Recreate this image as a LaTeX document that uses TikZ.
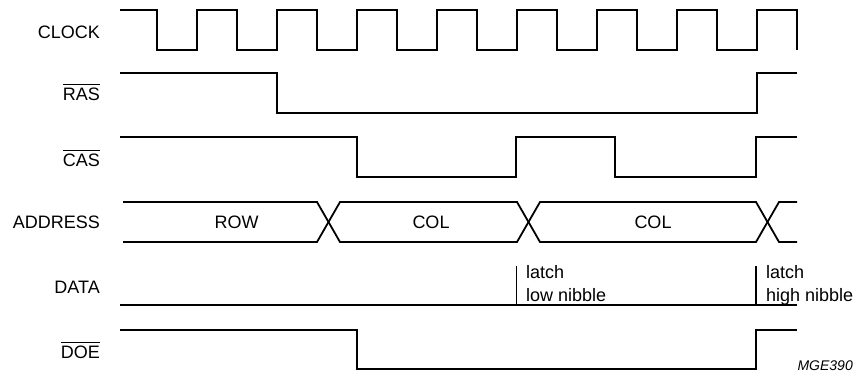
\documentclass[tikz,border=0pt]{standalone}
\usepackage{fontspec}
\setmainfont{Liberation Sans}
\newcommand\ovl[1]{\leavevmode\vbox{\hrule height 1.3pt\kern 2.3pt\hbox{#1}}}
\begin{document}
\begin{tikzpicture}[x=1pt,y=-1pt,
  wave/.style={line width=1.8pt,line join=miter},
  lbl/.style={anchor=base east,inner sep=0pt,font=\fontsize{18}{21}\selectfont},
  intext/.style={anchor=base,inner sep=0pt,font=\fontsize{18}{21}\selectfont},
  note/.style={anchor=base west,inner sep=0pt,font=\fontsize{18}{21}\selectfont}]
\useasboundingbox (0,0) rectangle (859,376);
% labels
\node[lbl] (lclk) at (100,38.3) {CLOCK};
\node[lbl] (lras) at (100,100) {\ovl{RAS}};
\node[lbl] (lcas) at (100,166.3) {\ovl{CAS}};
\node[lbl] (ladr) at (100,228.3) {ADDRESS};
\node[lbl] (ldat) at (100,293.3) {DATA};
\node[lbl] (ldoe) at (100,358.3) {\ovl{DOE}};
% clock
\draw[wave] (120,10) foreach \i in {0,...,7} { -- ({157+80*\i},10) -- ({157+80*\i},50) -- ({197+80*\i},50) -- ({197+80*\i},10) } -- (797,10) -- (797,50);
% RAS
\draw[wave] (120,73) -- (277,73) -- (277,113) -- (757,113) -- (757,73) -- (797,73);
% CAS
\draw[wave] (120,137) -- (357,137) -- (357,177) -- (516,177) -- (516,137) -- (615,137) -- (615,177) -- (756,177) -- (756,137) -- (797,137);
% ADDRESS
\draw[wave] (123,202) -- (317,202) -- (340,242) -- (517,242) -- (540,202) -- (756,202) -- (779,242) -- (797,242);
\draw[wave] (123,242) -- (317,242) -- (340,202) -- (517,202) -- (540,242) -- (756,242) -- (779,202) -- (797,202);
\node[intext] (row) at (236.7,228.3) {ROW};
\node[intext] (col1) at (431,228.3) {COL};
\node[intext] (col2) at (653,228.3) {COL};
% DATA
\draw[wave] (120,305) -- (797,305);
\draw[wave] (516.5,266) -- (516.5,305);
\draw[wave] (756,266) -- (756,305);
\node[note] (la1) at (526,278.3) {latch};
\node[note] (la2) at (526,301.7) {low nibble};
\node[note] (lb1) at (766,278.3) {latch};
\node[note] (lb2) at (766,301.7) {high nibble};
% DOE
\draw[wave] (120,330) -- (357,330) -- (357,369) -- (756,369) -- (756,330) -- (797,330);
\node[anchor=base east,inner sep=0pt,font=\fontsize{14}{16}\selectfont\itshape] (mge) at (853,370) {MGE390};
\end{tikzpicture}
\end{document}
